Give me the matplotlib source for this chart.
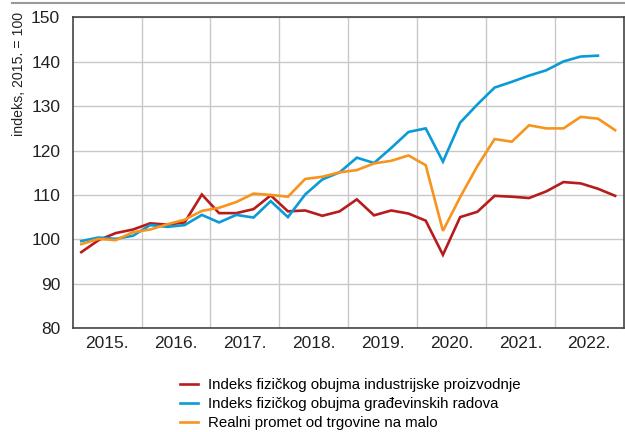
import numpy as np
import matplotlib
matplotlib.use("Agg")
import matplotlib.pyplot as plt
from matplotlib.lines import Line2D

plt.rcParams['font.family'] = ['Liberation Sans Narrow', 'Liberation Sans', 'DejaVu Sans']

# kvartali 2015.Q1 .. 2022.Q4
years = [2015, 2016, 2017, 2018, 2019, 2020, 2021, 2022]
year_labels = ["2015.", "2016.", "2017.", "2018.", "2019.", "2020.", "2021.", "2022."]

industrija = [97.1, 99.8, 101.4, 102.2, 103.6, 103.3, 103.8, 110.1,
              105.9, 105.9, 106.8, 109.9, 106.3, 106.5, 105.3, 106.3,
              109.0, 105.4, 106.5, 105.8, 104.2, 96.5, 105.0, 106.2,
              109.8, 109.6, 109.3, 110.8, 112.9, 112.6, 111.4, 109.8]

gradjevina = [99.6, 100.4, 100.1, 100.8, 103.2, 102.8, 103.2, 105.5,
              103.8, 105.5, 104.9, 108.6, 105.0, 110.1, 113.5, 115.1,
              118.4, 117.2, 120.6, 124.2, 125.0, 117.5, 126.3, 130.4,
              134.2, 135.5, 136.9, 138.1, 140.1, 141.2, 141.4]

trgovina = [98.9, 100.1, 99.8, 101.6, 102.2, 103.4, 104.4, 106.4,
            107.1, 108.4, 110.3, 110.0, 109.6, 113.6, 114.1, 115.1,
            115.6, 117.1, 117.7, 118.9, 116.7, 101.9, 109.5, 116.5,
            122.6, 122.0, 125.7, 125.0, 125.0, 127.6, 127.2, 124.6]

nazivi = ["Indeks fizičkog obujma industrijske proizvodnje",
          "Indeks fizičkog obujma građevinskih radova",
          "Realni promet od trgovine na malo"]
boje = ["#B71C1C", "#0A9BD6", "#F7941D"]


def kvartali(n):
    return 2015 + 0.125 + 0.25 * np.arange(n)


fig = plt.figure(figsize=(6.25, 4.32), dpi=100)
ax = fig.add_axes([0.1163, 0.2407, 0.8817, 0.7188])

for serija, boja in zip([industrija, gradjevina, trgovina], boje):
    ax.plot(kvartali(len(serija)), serija, color=boja, lw=1.9, solid_joinstyle='miter')

ax.set_xlim(2015, 2023)
ax.set_ylim(80, 150)
ax.set_yticks(range(80, 151, 10))
ax.set_xticks(years[1:], minor=False)
ax.set_xticklabels([])
ax.set_xticks([y + 0.5 for y in years], minor=True)
ax.set_xticklabels(year_labels, minor=True)
ax.tick_params(axis='both', which='both', length=0, labelsize=12.5, colors='#222222')
ax.tick_params(axis='x', which='minor', pad=6)
ax.tick_params(axis='y', pad=9)
ax.grid(True, which='major', color='#c8c8c8', lw=1)
ax.set_axisbelow(True)
for s in ax.spines.values():
    s.set_color('#444444')
    s.set_linewidth(1.2)

# oznaka osi y gore lijevo
fig.text(19 / 625, 1 - 12 / 432, "indeks, 2015. = 100", rotation=90,
         ha='center', va='top', fontsize=10.2, color='#222222')

# siva linija na vrhu
fig.add_artist(Line2D([12 / 625, 1], [1 - 3 / 432, 1 - 3 / 432],
                      color='#999999', lw=1.5, transform=fig.transFigure))

handles = [Line2D([], [], color=b, lw=1.9) for b in boje]
fig.legend(handles, nazivi, loc='upper left', bbox_to_anchor=(0.288, 0.125),
           frameon=False, fontsize=10.8, handlelength=1.2, handletextpad=0.7,
           labelspacing=0.35, borderaxespad=0, borderpad=0)

fig.savefig("out.png", dpi=100)
